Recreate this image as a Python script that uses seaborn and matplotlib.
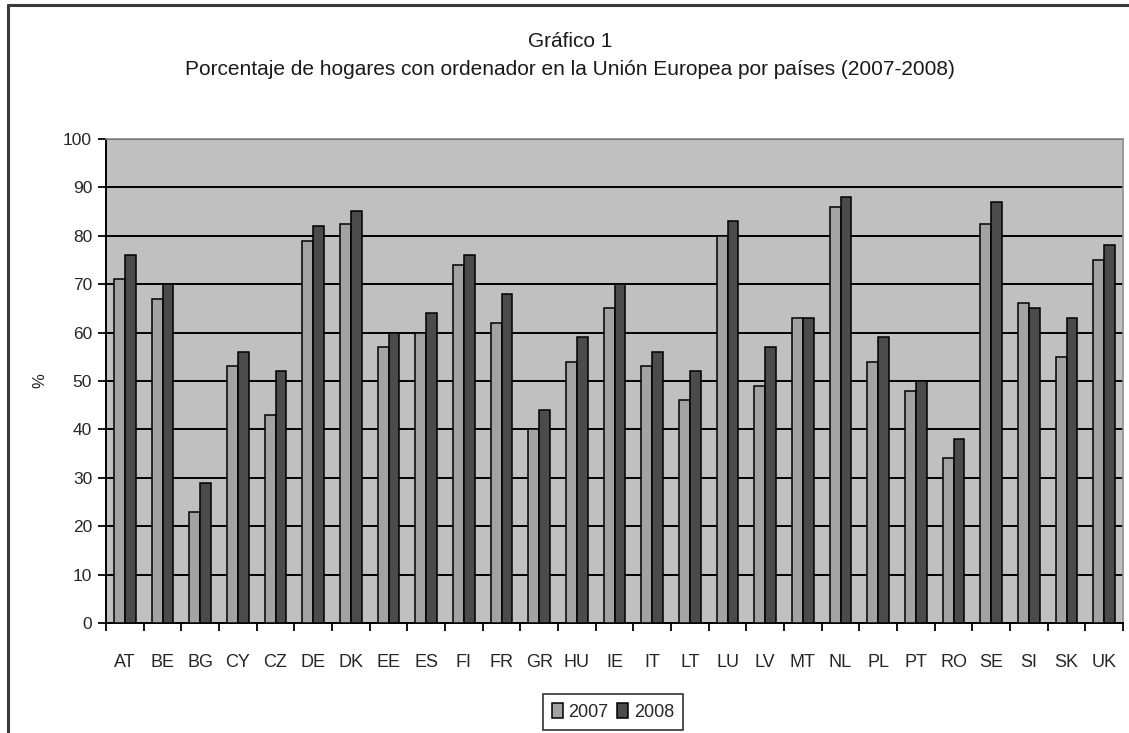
import pandas as pd
import matplotlib.pyplot as plt
import seaborn as sns
from matplotlib.lines import Line2D
from matplotlib.patches import Patch
from matplotlib.ticker import MultipleLocator, FixedLocator

# Datos
paises = ['AT', 'BE', 'BG', 'CY', 'CZ', 'DE', 'DK', 'EE', 'ES', 'FI', 'FR', 'GR', 'HU', 'IE',
          'IT', 'LT', 'LU', 'LV', 'MT', 'NL', 'PL', 'PT', 'RO', 'SE', 'SI', 'SK', 'UK']
hogares_2007 = [71, 67, 23, 53, 43, 79, 82.5, 57, 60, 74, 62, 40, 54, 65,
                53, 46, 80, 49, 63, 86, 54, 48, 34, 82.5, 66, 55, 75]
hogares_2008 = [76, 70, 29, 56, 52, 82, 85, 60, 64, 76, 68, 44, 59, 70,
                56, 52, 83, 57, 63, 88, 59, 50, 38, 87, 65, 63, 78]
anios = ['2007', '2008']

df = pd.DataFrame({
    'Pais': paises * 2,
    'Anio': [anios[0]] * len(paises) + [anios[1]] * len(paises),
    'Valor': hogares_2007 + hogares_2008,
})

sns.set_theme(style="white")
plt.rcParams['font.family'] = ['Liberation Sans', 'DejaVu Sans']

palette = {'2007': '#A3A3A3', '2008': '#4B4B4B'}

fig = plt.figure(figsize=(11.29, 7.33), dpi=100)
ax = fig.add_axes([0.0939, 0.150, 0.9008, 0.6606])

sns.barplot(data=df, x='Pais', y='Valor', hue='Anio', order=paises, hue_order=anios,
            palette=palette, width=0.57, gap=0, edgecolor='black', linewidth=1.1,
            saturation=1, ax=ax, legend=False, zorder=3)

ax.set_facecolor('#C0C0C0')
ax.set_ylim(0, 100)
ax.set_xlim(-0.5, len(paises) - 0.5)
ax.yaxis.set_major_locator(MultipleLocator(10))
ax.set_axisbelow(True)
ax.grid(axis='y', color='black', linewidth=1.4)
ax.grid(axis='x', visible=False)

# Marcas del eje X entre categorías (estilo Excel)
ax.xaxis.set_minor_locator(FixedLocator([i - 0.5 for i in range(len(paises) + 1)]))
ax.tick_params(axis='x', which='major', length=0, pad=22, labelsize=13)
ax.tick_params(axis='x', which='minor', length=6, width=1.3, color='black', direction='out', bottom=True)
ax.tick_params(axis='y', length=6, width=1.3, color='black', direction='out', left=True,
               labelsize=12.5, pad=4)

for s in ['left', 'bottom']:
    ax.spines[s].set_color('black')
    ax.spines[s].set_linewidth(1.4)
for s in ['top', 'right']:
    ax.spines[s].set_color('#8C8C8C')
    ax.spines[s].set_linewidth(1.2)

ax.set_xlabel('')
ax.set_ylabel('%', fontsize=12)
ax.yaxis.set_label_coords(-0.058, 0.5)

# Títulos
fig.text(0.505, 0.943, 'Gráfico 1', ha='center', va='center', fontsize=15, color='#1a1a1a')
fig.text(0.505, 0.905, 'Porcentaje de hogares con ordenador en la Unión Europea por países (2007-2008)',
         ha='center', va='center', fontsize=15, color='#1a1a1a')

# Leyenda
handles = [Patch(facecolor=palette[a], edgecolor='black', linewidth=1.1, label=a) for a in anios]
leg = fig.legend(handles=handles, loc='center', bbox_to_anchor=(0.543, 0.029), ncol=2,
                 frameon=True, fancybox=False, edgecolor='black', fontsize=13,
                 handlelength=0.6, handleheight=0.9, handletextpad=0.3, columnspacing=0.5,
                 borderpad=0.5)
leg.get_frame().set_linewidth(1.2)

# Borde exterior del gráfico (izquierda y arriba)
fig.add_artist(Line2D([0.0075, 0.0075], [0, 0.993], color='#3A3A3A', linewidth=2.2))
fig.add_artist(Line2D([0.0075, 1.0], [0.993, 0.993], color='#3A3A3A', linewidth=2.2))

fig.savefig('out.png', dpi=100, facecolor='white')
